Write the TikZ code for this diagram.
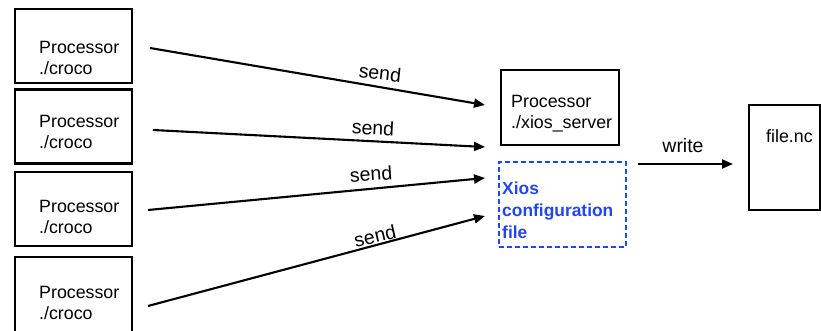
\documentclass[tikz,border=0pt]{standalone}
\usepackage{fontspec}
\setmainfont{Liberation Sans}
\usetikzlibrary{arrows.meta}
\definecolor{xblue}{RGB}{35,70,235}
\begin{document}
\begin{tikzpicture}[x=1pt,y=-1pt,
  box/.style={draw, line width=2.1pt, inner sep=0pt, minimum width=117pt, minimum height=74pt},
  txt/.style={inner sep=0pt, align=left, font=\fontsize{17.8}{20.5}\selectfont},
  lbl/.style={inner sep=0pt, font=\fontsize{19.5}{22}\selectfont},
  arr/.style={line width=2.1pt, -{Triangle[length=11pt,width=9pt]}},
  cfg/.style={draw=xblue, line width=2pt, dash pattern=on 5pt off 3pt, inner sep=0pt,
    minimum width=127pt, minimum height=85pt}]
\useasboundingbox (0,0) rectangle (821,331);
% left processor boxes
\node[box] (p1) at (73.5,46) {};
\node[box] (p2) at (73.5,126.5) {};
\node[box] (p3) at (73.5,209) {};
\node[box, minimum height=80pt] (p4) at (73.5,297) {};
\node[txt, anchor=west] (t1) at (39,58) {Processor\\./croco};
\node[txt, anchor=west] (t2) at (39,132) {Processor\\./croco};
\node[txt, anchor=west] (t3) at (39,217) {Processor\\./croco};
\node[txt, anchor=west] (t4) at (39,303) {Processor\\./croco};
% server box
\node[box, minimum width=118pt, minimum height=75pt] (srv) at (560,107.5) {};
\node[txt, anchor=west] (tsrv) at (511,113.5) {Processor\\./xios\_server};
% config box
\node[cfg] (cfg) at (562.5,204.5) {};
\node[txt, anchor=west, text=xblue, font=\bfseries\fontsize{17.4}{22}\selectfont] (tcfg) at (502,210) {Xios\\configuration\\file};
% file box
\node[box, minimum width=71pt, minimum height=105pt] (fnc) at (784.5,157.5) {};
\node[txt, anchor=west] (tfnc) at (766,136) {file.nc};
% arrows
\coordinate (s1) at (150,48);  \coordinate (e1) at (485,105);
\coordinate (s2) at (153,130); \coordinate (e2) at (485,147);
\coordinate (s3) at (148,210); \coordinate (e3) at (485,178);
\coordinate (s4) at (148,306); \coordinate (e4) at (485,216);
\coordinate (w1) at (638,164); \coordinate (w2) at (733,164);
\draw[arr] (s1) -- (e1);
\draw[arr] (s2) -- (e2);
\draw[arr] (s3) -- (e3);
\draw[arr] (s4) -- (e4);
\draw[arr] (w1) -- (w2);
\node[lbl, rotate=-6] (l1) at (380,73) {send};
\node[lbl, rotate=-3] (l2) at (373,128) {send};
\node[lbl, rotate=4] (l3) at (371,174) {send};
\node[lbl, rotate=13] (l4) at (375,236) {send};
\node[lbl] (lw) at (683,146) {write};
\end{tikzpicture}
\end{document}
